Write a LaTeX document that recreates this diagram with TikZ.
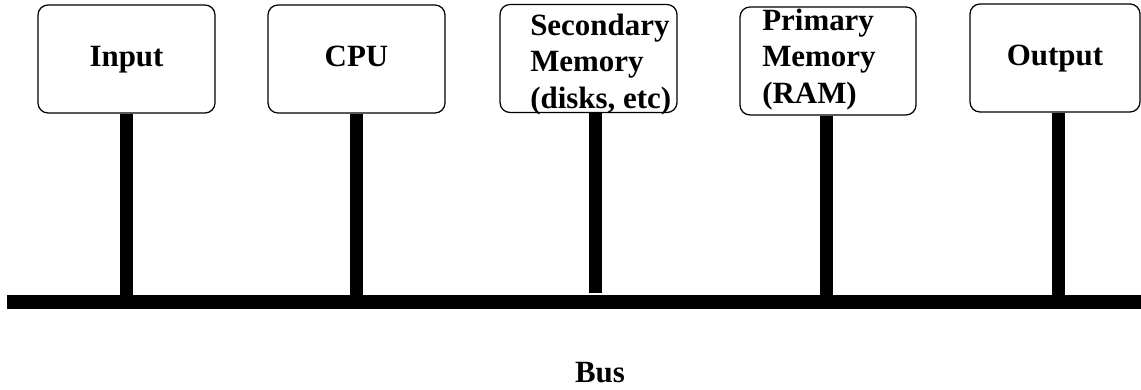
\documentclass[tikz,border=0pt]{standalone}
\usepackage{fontspec}
\setmainfont{Liberation Serif}
\usetikzlibrary{positioning}
\tikzset{
unit/.style={draw, line width=0.9pt, rounded corners=0.25cm,
  minimum width=4.425cm, minimum height=2.7cm, inner sep=0pt,
  text height=0.5cm, text depth=0.1cm,
  font=\fontsize{22}{26}\selectfont\bfseries},
lbl/.style={font=\fontsize{22}{26}\selectfont\bfseries, align=left, inner sep=0pt},
stem/.style={line width=0.325cm},
bar/.style={fill, inner sep=0pt, minimum width=28.35cm, minimum height=0.35cm}
}

\begin{document}
\begin{tikzpicture}
\useasboundingbox (0,0) rectangle (28.525,9.725);
\node[unit] (in) at (3.1625,8.25) {Input};
\node[unit] (cpu) at (8.9125,8.25) {CPU};
\node[unit] (sec) at (14.7125,8.2625) {};
\node[unit, minimum width=4.4cm] (prim) at (20.7,8.2) {};
\node[unit, minimum width=4.25cm] (out) at (26.375,8.275) {Output};
\node[lbl, anchor=west] (sectxt) at (13.25,8.115) {Secondary\\Memory\\(disks, etc)};
\node[lbl, anchor=west] (primtxt) at (19.05,8.24) {Primary\\Memory\\(RAM)};
\node[bar] (bus) at (14.35,2.175) {};
\node[lbl] (buslbl) at (15.0,0.42) {Bus};
\draw[stem] (in.south) -- (in.south |- bus.north);
\draw[stem] (cpu.south) -- (cpu.south |- bus.north);
\draw[stem] ([xshift=0.18cm]sec.south) -- ([xshift=0.18cm, yshift=0.05cm]sec.south |- bus.north);
\draw[stem] ([xshift=-0.05cm]prim.south) -- ([xshift=-0.05cm]prim.south |- bus.north);
\draw[stem] ([xshift=0.09cm]out.south) -- ([xshift=0.09cm]out.south |- bus.north);
\end{tikzpicture}
\end{document}
